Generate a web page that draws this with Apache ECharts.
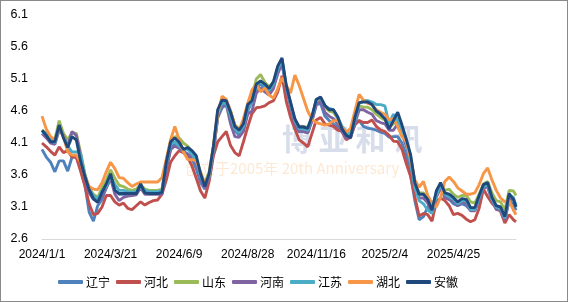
<!DOCTYPE html>
<html><head><meta charset="utf-8">
<script src="https://cdn.jsdelivr.net/npm/echarts@6/dist/echarts.min.js"></script>
<style>
html,body{margin:0;padding:0;background:#fff;}
#c{width:568px;height:302px;box-sizing:border-box;border:1px solid #8a8a8a;}
</style></head><body>
<div id="c"></div>
<script>
const seriesNames = ['辽宁','河北','山东','河南','江苏','湖北','安徽'];
const colors = ['#4F81BD','#C0504D','#9BBB59','#8064A2','#4BACC6','#F79646','#1F497D'];
const xTickLabels = ['2024/1/1','2024/3/21','2024/6/9','2024/8/28','2024/11/16','2025/2/4','2025/4/25'];
const yTicks = [2.6,3.1,3.6,4.1,4.6,5.1,5.6,6.1];
// days since 2024/1/1
const days = [0,5,10,15,20,25,30,35,40,45,50,55,60,65,70,75,80,85,90,95,100,105,110,115,120,125,130,135,140,145,150,155,160,165,170,175,180,185,190,195,200,205,210,215,220,225,230,235,240,245,250,255,260,265,270,275,280,285,290,295,300,305,310,315,320,325,330,335,340,345,350,355,360,365,370,375,380,385,390,395,400,405,410,415,420,425,430,435,440,445,450,455,460,465,470,475,480,485,490,495,500,505,510,515,520,525,530,535,540,545,550,553];

const liaoning = [4.00,3.88,3.80,3.65,3.82,3.82,3.66,3.88,3.88,3.70,3.45,3.02,2.88,3.12,3.22,3.40,3.55,3.36,3.30,3.30,3.28,3.30,3.32,3.42,3.33,3.32,3.33,3.33,3.35,3.70,4.00,4.10,4.05,3.98,3.92,3.85,3.70,3.48,3.38,3.55,3.95,4.50,4.65,4.70,4.50,4.30,4.22,4.30,4.60,4.75,4.95,5.02,4.95,4.90,5.00,5.20,5.35,4.95,4.68,4.40,4.28,4.28,4.26,4.45,4.70,4.72,4.52,4.45,4.40,4.35,4.28,4.20,4.22,4.40,4.45,4.36,4.33,4.32,4.30,4.27,4.25,4.19,4.20,4.20,4.10,3.90,3.60,3.20,2.90,2.95,3.10,3.08,3.30,3.42,3.25,3.22,3.15,3.12,3.15,3.12,3.05,3.05,3.22,3.40,3.42,3.20,3.08,3.05,2.90,3.20,3.15,3.05];
const hebei = [4.10,4.04,3.97,3.91,4.04,3.95,3.98,3.88,3.88,3.66,3.43,3.15,2.98,3.00,3.10,3.28,3.28,3.18,3.13,3.16,3.08,3.06,3.12,3.18,3.13,3.17,3.20,3.21,3.30,3.52,3.80,3.90,3.98,3.95,3.88,3.74,3.55,3.35,3.24,3.50,3.90,4.12,4.20,4.28,4.06,3.95,3.90,4.12,4.35,4.56,4.65,4.66,4.68,4.73,4.76,4.90,5.15,4.75,4.50,4.32,4.15,4.10,4.04,4.25,4.46,4.50,4.40,4.38,4.36,4.30,4.28,4.15,4.20,4.38,4.45,4.42,4.42,4.46,4.36,4.30,4.28,4.22,4.13,4.12,4.00,3.78,3.58,3.26,2.96,3.00,2.98,2.88,3.18,3.24,3.20,3.12,2.98,3.00,2.97,2.91,2.87,2.90,3.08,3.38,3.26,3.16,3.09,3.03,2.85,2.98,2.90,2.87];
const shandong = [4.30,4.25,4.18,4.15,4.45,4.25,4.15,4.26,4.25,3.95,3.62,3.40,3.30,3.25,3.40,3.52,3.68,3.55,3.44,3.42,3.38,3.36,3.38,3.45,3.38,3.36,3.36,3.36,3.38,3.82,4.12,4.20,4.18,4.10,4.05,3.96,3.86,3.62,3.48,3.65,4.05,4.60,4.76,4.76,4.60,4.38,4.32,4.40,4.70,4.80,5.10,5.17,5.05,4.98,5.04,5.28,5.40,4.98,4.70,4.45,4.36,4.36,4.33,4.52,4.74,4.78,4.66,4.60,4.58,4.48,4.35,4.28,4.25,4.48,4.68,4.66,4.66,4.62,4.55,4.50,4.46,4.35,4.40,4.50,4.35,4.14,3.90,3.48,3.32,3.32,3.24,3.10,3.30,3.45,3.36,3.38,3.30,3.25,3.28,3.28,3.18,3.16,3.30,3.46,3.50,3.32,3.20,3.18,3.05,3.36,3.35,3.28];
const henan = [4.25,4.18,4.10,4.08,4.30,4.22,4.05,4.28,4.22,3.90,3.55,3.32,3.22,3.18,3.28,3.40,3.55,3.30,3.20,3.25,3.27,3.28,3.29,3.40,3.30,3.30,3.30,3.30,3.30,3.70,4.00,4.05,4.02,3.95,3.93,3.88,3.78,3.55,3.40,3.55,3.98,4.50,4.68,4.70,4.40,4.20,4.19,4.28,4.55,4.60,4.88,4.96,4.90,4.85,4.95,5.18,5.35,4.95,4.68,4.40,4.28,4.28,4.26,4.45,4.70,4.75,4.58,4.52,4.48,4.40,4.28,4.18,4.18,4.40,4.62,4.62,4.58,4.55,4.45,4.42,4.40,4.30,4.30,4.40,4.25,4.05,3.80,3.42,3.24,3.24,3.16,3.00,3.25,3.40,3.25,3.22,3.20,3.12,3.18,3.15,3.04,3.04,3.22,3.40,3.42,3.20,3.06,3.05,2.90,3.22,3.22,3.12];
const jiangsu = [4.25,4.27,4.18,4.10,4.35,4.20,4.05,3.96,3.96,3.94,3.60,3.38,3.28,3.22,3.35,3.42,3.58,3.45,3.36,3.36,3.34,3.33,3.34,3.42,3.36,3.34,3.34,3.34,3.36,3.78,4.08,4.12,4.05,4.00,4.00,3.92,3.82,3.58,3.45,3.58,4.00,4.55,4.72,4.72,4.52,4.32,4.26,4.36,4.65,4.74,5.00,5.05,5.00,4.92,5.02,5.26,5.40,4.98,4.72,4.45,4.32,4.32,4.30,4.50,4.78,4.80,4.68,4.64,4.62,4.50,4.36,4.26,4.22,4.45,4.72,4.76,4.76,4.74,4.70,4.70,4.68,4.40,4.55,4.45,4.30,4.10,3.80,3.40,3.20,3.15,3.05,3.00,3.28,3.45,3.30,3.26,3.22,3.15,3.20,3.20,3.06,3.06,3.25,3.42,3.45,3.22,3.10,3.08,2.92,3.28,3.25,3.12];
const hubei = [4.52,4.32,4.20,4.15,4.35,4.20,3.96,3.91,3.91,3.80,3.58,3.42,3.38,3.37,3.48,3.65,3.80,3.70,3.56,3.55,3.48,3.42,3.46,3.49,3.49,3.49,3.49,3.49,3.56,3.85,4.15,4.36,4.15,3.96,3.84,3.84,3.82,3.65,3.45,3.60,4.05,4.55,4.83,4.78,4.60,4.38,4.30,4.48,4.72,4.93,5.02,4.90,4.96,4.85,4.80,4.95,5.12,5.00,4.88,5.16,5.00,4.80,4.60,4.47,4.42,4.40,4.38,4.40,4.45,4.45,4.34,4.27,4.33,4.60,4.86,4.77,4.72,4.70,4.62,4.58,4.55,4.46,4.48,4.36,4.20,4.12,3.85,3.52,3.41,3.50,3.28,3.16,3.10,3.25,3.50,3.57,3.50,3.40,3.35,3.30,3.30,3.32,3.45,3.62,3.71,3.52,3.36,3.24,3.18,3.20,3.05,2.98];
const anhui = [4.30,4.22,4.12,4.12,4.38,4.18,4.03,4.20,4.15,3.82,3.58,3.37,3.23,3.17,3.33,3.46,3.62,3.36,3.31,3.31,3.31,3.31,3.31,3.46,3.32,3.31,3.31,3.31,3.33,3.80,4.12,4.18,4.11,4.00,4.03,3.98,3.90,3.62,3.42,3.62,4.05,4.62,4.77,4.76,4.58,4.36,4.30,4.40,4.70,4.76,5.02,5.07,5.02,4.95,5.06,5.30,5.43,5.00,4.74,4.48,4.35,4.35,4.33,4.52,4.78,4.82,4.69,4.62,4.62,4.51,4.32,4.22,4.18,4.50,4.73,4.74,4.74,4.70,4.60,4.55,4.48,4.32,4.45,4.58,4.38,4.16,3.92,3.48,3.30,3.30,3.22,3.05,3.35,3.48,3.32,3.30,3.25,3.18,3.23,3.22,3.09,3.09,3.28,3.45,3.48,3.25,3.12,3.10,2.95,3.31,3.22,3.10];

const allValues = [liaoning, hebei, shandong, henan, jiangsu, hubei, anhui];
const base = new Date(2024, 0, 1);
function labelToDay(s){const p=s.split('/').map(Number);return Math.round((new Date(p[0],p[1]-1,p[2]) - base)/86400000);}
function dayToLabel(d){const t=new Date(2024,0,1+Math.round(d));return t.getFullYear()+'/'+(t.getMonth()+1)+'/'+t.getDate();}
const xTickDays = xTickLabels.map(labelToDay);

const chart = echarts.init(document.getElementById('c'), null, {renderer:'canvas'});
chart.setOption({
  animation:false,
  color: colors,
  grid:{left:41,right:51,top:14,bottom:62},
  graphic:[
    {type:'text',left:281,top:123,z:-10,style:{text:'博 亚 和 讯',fill:'rgba(175,188,216,0.5)',font:'bold 30px "Noto Sans CJK SC"'}},
    {type:'text',left:184,top:160,z:-10,style:{text:'创立于2005年 20th Anniversary',fill:'rgba(250,205,160,0.45)',font:'15px "Noto Sans CJK SC"'}}
  ],
  xAxis:{type:'value',min:0,max:days[days.length-1],
    axisLine:{show:true,lineStyle:{color:'#d9d9d9',width:1}},
    axisTick:{show:false},splitLine:{show:false},
    axisLabel:{customValues:xTickDays,formatter:v=>dayToLabel(v),color:'#000',fontSize:12,fontFamily:'Liberation Sans',margin:10}
  },
  yAxis:{type:'value',min:2.6,max:6.1,
    axisLine:{show:false},axisTick:{show:false},splitLine:{show:false},
    axisLabel:{customValues:yTicks,formatter:v=>v.toFixed(1),color:'#000',fontSize:12.5,fontFamily:'Liberation Sans',margin:14}
  },
  legend:{bottom:8,left:52,icon:'roundRect',itemWidth:25,itemHeight:4,itemGap:6,
    textStyle:{color:'#000',fontSize:12,fontFamily:'"Noto Sans CJK SC"',padding:[0,0,0,-2]},
    data:seriesNames},
  series: seriesNames.map((n,k)=>({
    name:n,type:'line',showSymbol:false,symbol:'none',
    lineStyle:{width:2.9,color:colors[k]},
    itemStyle:{color:colors[k]},
    data: days.map((d,i)=>[d, allValues[k][i]])
  }))
});
</script>
</body></html>
